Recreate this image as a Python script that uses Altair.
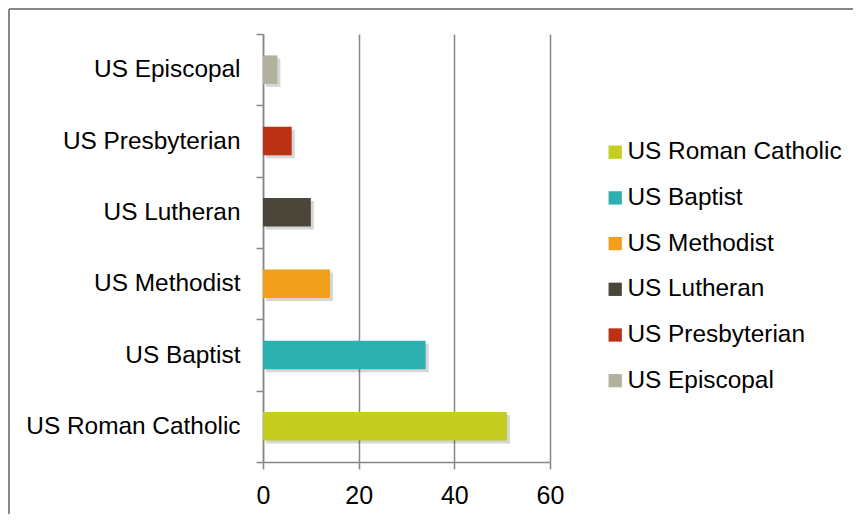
import altair as alt
import pandas as pd

denominations = ["US Episcopal", "US Presbyterian", "US Lutheran", "US Methodist", "US Baptist", "US Roman Catholic"]
values = [3, 6, 10, 14, 34, 51]
legend_order = ["US Roman Catholic", "US Baptist", "US Methodist", "US Lutheran", "US Presbyterian", "US Episcopal"]
legend_colors = ["#C3CE1F", "#2DB1B0", "#F2A01C", "#4A473A", "#BC3016", "#B2B09F"]
x_ticks = [0, 20, 40, 60]

df = pd.DataFrame({"denomination": denominations, "value": values})

FONT = "Liberation Sans"
GRAY = "#878787"

y_enc = alt.Y("denomination:N", sort=denominations, title=None,
              scale=alt.Scale(paddingInner=0, paddingOuter=0),
              axis=alt.Axis(tickBand="extent", tickSize=7, tickColor=GRAY, tickWidth=1.5,
                            domainColor=GRAY, domainWidth=1.5, labelFont=FONT,
                            labelFontSize=24.4, labelColor="#000000", labelPadding=16,
                            labelLimit=400, grid=False))
x_enc = alt.X("value:Q", title=None,
              scale=alt.Scale(domain=[0, 60], nice=False),
              axis=alt.Axis(values=x_ticks, grid=True, gridColor=GRAY, gridWidth=1.5,
                            tickSize=7, tickColor=GRAY, tickWidth=1.5, labelFlush=False,
                            domainColor=GRAY, domainWidth=1.5, labelFont=FONT,
                            labelFontSize=25, labelColor="#000000", labelPadding=14))

base = alt.Chart(df)

shadow = base.mark_bar(height=alt.RelativeBandSize(0.4), color="#000000", opacity=0.16,
                       xOffset=3, yOffset=3).encode(x=x_enc, y=y_enc)

bars = base.mark_bar(height=alt.RelativeBandSize(0.4)).encode(
    x=x_enc, y=y_enc,
    color=alt.Color("denomination:N",
                    scale=alt.Scale(domain=legend_order, range=legend_colors),
                    legend=alt.Legend(title=None, orient="none", legendX=340, legendY=106,
                                      symbolType="square", symbolSize=177, symbolStrokeWidth=0,
                                      labelFont=FONT, labelFontSize=24.4, labelColor="#000000",
                                      labelOffset=0, rowPadding=20.7, padding=0,
                                      labelLimit=400)),
)

frame_top = alt.Chart(pd.DataFrame({"a": [0]})).mark_rule(color=GRAY, strokeWidth=2).encode(
    x=alt.value(-254), x2=alt.value(600), y=alt.value(-25))
frame_left = alt.Chart(pd.DataFrame({"a": [0]})).mark_rule(color=GRAY, strokeWidth=2).encode(
    x=alt.value(-254), y=alt.value(-25), y2=alt.value(480))

chart = alt.layer(shadow, bars, frame_top, frame_left).properties(
    width=287, height=428,
    padding={"left": 255, "top": 26, "right": 303, "bottom": 52},
    autosize=alt.AutoSizeParams(type="none"),
).configure_view(stroke=None)

chart.save("out.html", embed_options={"renderer": "svg", "actions": False})
